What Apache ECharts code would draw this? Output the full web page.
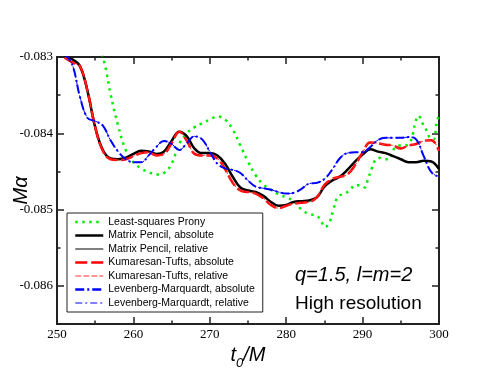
<!DOCTYPE html>
<html>
<head>
<meta charset="utf-8">
<script src="https://cdn.jsdelivr.net/npm/echarts@6/dist/echarts.min.js"></script>
<style>
  html, body { margin: 0; padding: 0; background: #fff; }
  #chart { width: 494px; height: 382px; }
</style>
</head>
<body>
<div id="chart"></div>
<script>
// sample times (t0/M) shared by the matrix pencil, KT and LM fits
const tGrid = [251, 252, 253, 254, 255, 256, 257, 258, 259, 260,
  261, 262, 263, 264, 265, 266, 267, 268, 269, 270,
  271, 272, 273, 274, 275, 276, 277, 278, 279, 280,
  281, 282, 283, 284, 285, 286, 287, 288, 289, 290,
  291, 292, 293, 294, 295, 296, 297, 298, 299, 300];

const mpAbs = [-0.08300, -0.08303, -0.08312, -0.08345, -0.08392, -0.08422, -0.08433, -0.08434, -0.08432, -0.08427,
  -0.08423, -0.08424, -0.08427, -0.08424, -0.08410, -0.08398, -0.08404, -0.08420, -0.08426, -0.08426,
  -0.08429, -0.08440, -0.08457, -0.08471, -0.08475, -0.08477, -0.08482, -0.08490, -0.08495, -0.08494,
  -0.08490, -0.08489, -0.08488, -0.08484, -0.08470, -0.08462, -0.08457, -0.08448, -0.08437, -0.08428,
  -0.08421, -0.08424, -0.08426, -0.08430, -0.08434, -0.08438, -0.08438, -0.08436, -0.08437, -0.08447];

const ktAbs = [-0.08301, -0.08307, -0.08312, -0.08345, -0.08392, -0.08423, -0.08434, -0.08435, -0.08434, -0.08430,
  -0.08426, -0.08425, -0.08429, -0.08427, -0.08413, -0.08398, -0.08410, -0.08427, -0.08429, -0.08429,
  -0.08433, -0.08447, -0.08465, -0.08475, -0.08477, -0.08479, -0.08485, -0.08494, -0.08498, -0.08495,
  -0.08492, -0.08491, -0.08490, -0.08484, -0.08468, -0.08460, -0.08457, -0.08454, -0.08442, -0.08425,
  -0.08412, -0.08413, -0.08415, -0.08416, -0.08420, -0.08416, -0.08414, -0.08410, -0.08409, -0.08423];

const lmAbs = [-0.08296, -0.08310, -0.08352, -0.08380, -0.08384, -0.08390, -0.08409, -0.08424, -0.08434, -0.08438,
  -0.08438, -0.08429, -0.08418, -0.08410, -0.08414, -0.08422, -0.08413, -0.08404, -0.08408, -0.08424,
  -0.08440, -0.08446, -0.08448, -0.08452, -0.08462, -0.08470, -0.08472, -0.08474, -0.08477, -0.08479,
  -0.08478, -0.08473, -0.08466, -0.08465, -0.08460, -0.08448, -0.08433, -0.08426, -0.08425, -0.08425,
  -0.08418, -0.08409, -0.08406, -0.08406, -0.08406, -0.08405, -0.08408, -0.08430, -0.08451, -0.08457];

// relative-error fits lie on top of the absolute ones
const mpRel = mpAbs;
const ktRel = ktAbs;
const lmRel = lmAbs;

// least-squares Prony has its own, finer sampling near the end
const tProny = [255, 256, 256.5, 257, 258, 259, 260, 261, 262, 263, 264, 265, 266, 267, 268, 269, 270,
  271, 272, 273, 274, 275, 276, 277, 278, 279, 280, 281, 282, 283, 284, 284.6, 285.1, 285.7,
  286.2, 286.8, 287.7, 288.4, 289, 289.7, 290.3, 290.7, 291.2, 291.6, 292.1, 292.7, 293.4,
  294.2, 294.9, 295.5, 296.2, 296.6, 296.9, 297.3, 297.9, 298.4, 298.8, 299.3, 299.7, 300];
const prony = [-0.08270, -0.08300, -0.08321, -0.08348, -0.08390, -0.08422, -0.08438, -0.08446, -0.08451, -0.08454,
  -0.08452, -0.08440, -0.08414, -0.08400, -0.08392, -0.08387, -0.08382, -0.08378, -0.08382, -0.08395,
  -0.08416, -0.08437, -0.08455, -0.08467, -0.08474, -0.08480, -0.08484, -0.08489, -0.08500, -0.08506,
  -0.08508, -0.08516, -0.08523, -0.08516, -0.08499, -0.08483, -0.08479, -0.08474, -0.08468, -0.08468,
  -0.08471, -0.08460, -0.08446, -0.08436, -0.08432, -0.08434, -0.08434, -0.08419, -0.08416, -0.08416,
  -0.08412, -0.08400, -0.08386, -0.08377, -0.08388, -0.08397, -0.08406, -0.08408, -0.08386, -0.08377];

const yMajor = [-0.086, -0.085, -0.084, -0.083];
const yMinor = [-0.0865, -0.0855, -0.0845, -0.0835];

const pairs = (xs, ys) => xs.map((x, i) => [x, ys[i]]);

const axisColor = '#222';
const tickFont = { fontFamily: 'Liberation Serif', fontSize: 13, color: '#000' };

function xAx(pos, showLabel) {
  return {
    type: 'value', position: pos, min: 250, max: 300, interval: 10,
    axisLine: { show: true, onZero: false, lineStyle: { color: axisColor, width: 2 } },
    axisTick: { inside: true, length: 7, lineStyle: { color: axisColor, width: 1.5 } },
    minorTick: { show: true, splitNumber: 2, length: 3.5, lineStyle: { color: axisColor, width: 1.5 } },
    axisLabel: Object.assign({ show: showLabel, margin: 4 }, tickFont),
    splitLine: { show: false }
  };
}

function yAx(pos, values, len, showLabel) {
  return {
    type: 'value', position: pos, min: -0.0865, max: -0.083,
    axisLine: { show: true, onZero: false, lineStyle: { color: axisColor, width: 2 } },
    axisTick: { inside: true, length: len, customValues: values, lineStyle: { color: axisColor, width: 1.5 } },
    axisLabel: Object.assign({
      show: showLabel, margin: 4, customValues: values,
      formatter: v => v.toFixed(3)
    }, tickFont),
    splitLine: { show: false }
  };
}

const xAxes = [xAx('bottom', true), xAx('top', false)];
xAxes[0].name = '{i|t}{s|0}{i|/M}';
xAxes[0].nameLocation = 'middle';
xAxes[0].nameGap = 17;
xAxes[0].nameTextStyle = {
  rich: {
    i: { fontFamily: 'Liberation Sans', fontStyle: 'italic', fontSize: 20, lineHeight: 20, verticalAlign: 'top', color: '#000' },
    s: { fontFamily: 'Liberation Sans', fontStyle: 'italic', fontSize: 13, lineHeight: 13, padding: [11, 0, 0, 0], verticalAlign: 'top', color: '#000' }
  }
};

const yAxes = [
  yAx('left', yMajor, 7, true),
  yAx('left', yMinor, 3.5, false),
  yAx('right', yMajor, 7, false),
  yAx('right', yMinor, 3.5, false)
];
yAxes[0].name = 'Mα';
yAxes[0].nameLocation = 'middle';
yAxes[0].nameGap = 26;
yAxes[0].nameMoveOverlap = false;
yAxes[0].nameTextStyle = { fontFamily: 'Liberation Sans', fontStyle: 'italic', fontSize: 20, color: '#000' };

const seriesNames = ['Least-squares Prony', 'Matrix Pencil, absolute', 'Matrix Pencil, relative',
  'Kumaresan-Tufts, absolute', 'Kumaresan-Tufts, relative',
  'Levenberg-Marquardt, absolute', 'Levenberg-Marquardt, relative'];
const legendWidths = [2.5, 2.5, 1, 2.5, 1, 2.5, 1];

function line(name, data, color, width, type) {
  return {
    name: name, type: 'line', data: data, symbol: 'none', smooth: 0.4,
    clip: true, z: 3,
    lineStyle: { color: color, width: width, type: type, cap: 'butt' },
    itemStyle: { color: color }
  };
}

const green = '#00ee00';
const option = {
  animation: false,
  backgroundColor: '#fff',
  grid: { left: 57, top: 57, right: 55, bottom: 58, outerBoundsMode: 'none' },
  xAxis: xAxes,
  yAxis: yAxes,
  legend: {
    orient: 'vertical', left: 67, top: 213,
    padding: [3, 8, 3, 7],
    itemWidth: 28, itemHeight: 12, itemGap: 1.5,
    itemStyle: { opacity: 0, borderWidth: 0 },
    borderColor: '#222', borderWidth: 1, backgroundColor: '#fff',
    textStyle: { fontFamily: 'Liberation Sans', fontSize: 10.5, lineHeight: 12, color: '#000' },
    data: seriesNames.map((n, i) => ({ name: n, lineStyle: { width: legendWidths[i] } }))
  },
  graphic: [
    { type: 'text', left: 295, top: 265, style: { text: 'q=1.5, l=m=2', font: 'italic 20px "Liberation Sans"', fill: '#000' } },
    { type: 'text', left: 295, top: 294, style: { text: 'High resolution', font: '19px "Liberation Sans"', fill: '#000' } }
  ],
  series: [
    line(seriesNames[0], pairs(tProny, prony), green, 2.5, [2.5, 4.5]),
    line(seriesNames[1], pairs(tGrid, mpAbs), '#000', 2.5, 'solid'),
    line(seriesNames[2], pairs(tGrid, mpRel), '#000', 1, 'solid'),
    line(seriesNames[3], pairs(tGrid, ktAbs), '#ff0000', 2.5, [12, 4]),
    line(seriesNames[4], pairs(tGrid, ktRel), '#ff3030', 1, [6, 2]),
    line(seriesNames[5], pairs(tGrid, lmAbs), '#0000ff', 2, [9, 3, 2, 3]),
    line(seriesNames[6], pairs(tGrid, lmRel), '#0000ff', 1, [7, 3, 2, 3])
  ]
};

const chart = echarts.init(document.getElementById('chart'), null, { renderer: 'canvas' });
chart.setOption(option);
</script>
</body>
</html>
